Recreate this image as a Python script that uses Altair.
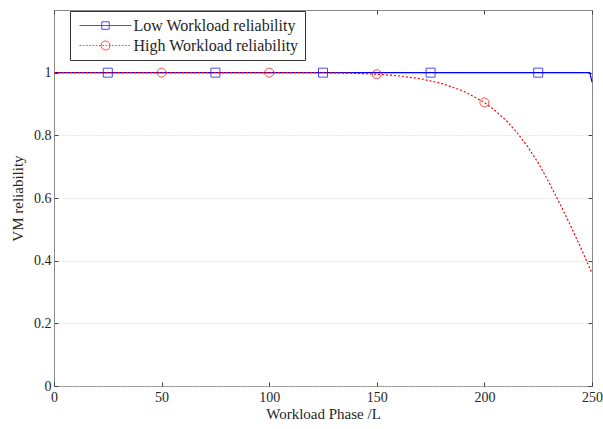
import altair as alt
import pandas as pd

# ---- data ----
LOW = "Low Workload reliability"
HIGH = "High Workload reliability"
SERIES = [LOW, HIGH]

low_x = [0, 25, 50, 75, 100, 125, 150, 175, 200, 225, 249, 250]
low_y = [1, 1, 1, 1, 1, 1, 1, 1, 1, 1, 1, 0.97]
low_marker_x = [25, 75, 125, 175, 225]

high_x = [0, 25, 50, 75, 100, 125, 140, 150, 160, 170, 180, 190, 200,
          205, 210, 215, 220, 225, 230, 235, 240, 245, 250]
high_y = [1, 1, 1, 1, 1, 1, 0.998, 0.995, 0.99, 0.981, 0.966, 0.942, 0.905,
          0.879, 0.848, 0.81, 0.765, 0.712, 0.65, 0.583, 0.512, 0.438, 0.36]
high_marker_x = [50, 100, 150, 200]

x_ticks = [0, 50, 100, 150, 200, 250]
y_ticks = [0, 0.2, 0.4, 0.6, 0.8, 1]

# ---- tables ----
lines = pd.DataFrame({
    "x": low_x + high_x,
    "y": low_y + high_y,
    "series": [LOW] * len(low_x) + [HIGH] * len(high_x),
})
lmap = dict(zip(low_x, low_y))
hmap = dict(zip(high_x, high_y))
markers = pd.DataFrame({
    "x": low_marker_x + high_marker_x,
    "y": [lmap[v] for v in low_marker_x] + [hmap[v] for v in high_marker_x],
    "series": [LOW] * len(low_marker_x) + [HIGH] * len(high_marker_x),
})

FONT = "Liberation Serif"
COLORS = ["#0000ff", "#ff0000"]
TXT = "#262626"
FRAME = "#8a8a8a"

xs = alt.Scale(domain=[0, 250], nice=False, zero=False)
ys = alt.Scale(domain=[0, 1.2], nice=False)

color_nl = alt.Color("series:N", scale=alt.Scale(domain=SERIES, range=COLORS), legend=None)

# main axes (labels, titles, grid)
x_main = alt.X("x:Q", scale=xs, axis=alt.Axis(
    orient="bottom", values=x_ticks, title="Workload Phase /L", ticks=False,
    domain=False, grid=False, labelFont=FONT, labelFontSize=14, labelColor=TXT,
    labelPadding=4, titleFont=FONT, titleFontSize=15, titleFontWeight="normal",
    titleColor=TXT, titlePadding=2, labelFlush=False))
y_main = alt.Y("y:Q", scale=ys, axis=alt.Axis(
    orient="left", values=y_ticks, title="VM reliability", ticks=False,
    domain=False, grid=True, gridColor="#cfcfcf", gridDash=[1, 2], gridWidth=1,
    labelFont=FONT, labelFontSize=14, labelColor=TXT, labelPadding=3, format="~g",
    titleFont=FONT, titleFontSize=15, titleFontWeight="normal", titleColor=TXT,
    titlePadding=8))

line_layer = alt.Chart(lines).mark_line(strokeWidth=1.2).encode(
    x=x_main, y=y_main, color=color_nl,
    strokeDash=alt.StrokeDash("series:N", scale=alt.Scale(domain=SERIES, range=[[1, 0], [2, 2]]), legend=None),
    detail="series:N",
)

point_layer = alt.Chart(markers).mark_point(filled=False, size=81, strokeWidth=1).encode(
    x=alt.X("x:Q", scale=xs, axis=None),
    y=alt.Y("y:Q", scale=ys, axis=None),
    color=color_nl,
    shape=alt.Shape("series:N", scale=alt.Scale(domain=SERIES, range=["square", "circle"]), legend=None),
)

# inward tick marks: bottom/left and top/right
def tick_axis(orient):
    return alt.Axis(orient=orient, values=(x_ticks if orient in ("bottom", "top") else y_ticks),
                    labels=False, title=None, domain=False, grid=False, ticks=True,
                    tickSize=4, offset=-4, tickColor="#444444", tickWidth=1)

ticks_a = alt.Chart(markers).transform_filter("false").mark_point(opacity=0).encode(
    x=alt.X("x:Q", scale=xs, axis=tick_axis("bottom")),
    y=alt.Y("y:Q", scale=ys, axis=tick_axis("left")),
)
ticks_b = alt.Chart(markers).transform_filter("false").mark_point(opacity=0).encode(
    x=alt.X("x:Q", scale=xs, axis=tick_axis("top")),
    y=alt.Y("y:Q", scale=ys, axis=tick_axis("right")),
)

# legend symbols: line + marker drawn as custom paths (unit = 5 px)
dots = "".join(f"M{-5.2 + 0.65 * i:.2f},0H{-4.85 + 0.65 * i:.2f}" for i in range(16))
low_path = "M-5.2,0H5.2M-0.75,-0.75H0.75V0.75H-0.75Z"
high_path = dots + "M0.9,0A0.9,0.9,0,1,1,-0.9,0A0.9,0.9,0,1,1,0.9,0Z"

leg = alt.Legend(title=None, orient="none", legendX=16, legendY=1,
                 labelFont=FONT, labelFontSize=16, labelColor=TXT,
                 labelOffset=20, symbolOffset=21, rowPadding=4,
                 padding=6.5, strokeColor="#333333", fillColor="white",
                 symbolStrokeWidth=1, labelLimit=400)

legend_layer = alt.Chart(markers).transform_filter("false").mark_point(
    filled=False, size=100, strokeWidth=1).encode(
    x=alt.X("x:Q", scale=xs, axis=None),
    y=alt.Y("y:Q", scale=ys, axis=None),
    color=alt.Color("series:N", scale=alt.Scale(domain=SERIES, range=COLORS), legend=leg),
    shape=alt.Shape("series:N", scale=alt.Scale(domain=SERIES, range=[low_path, high_path]), legend=leg),
)

chart = alt.layer(line_layer, point_layer, ticks_a, ticks_b, legend_layer).resolve_scale(
    color="independent", shape="independent", strokeDash="independent"
).resolve_axis(
    x="independent", y="independent"
).properties(
    width=538, height=376,
    autosize=alt.AutoSizeParams(type="none"),
    padding={"left": 54, "top": 10, "right": 11, "bottom": 43},
    background="white",
).configure_view(stroke=FRAME, strokeWidth=1)

chart.save("out.html", embed_options={"renderer": "svg", "actions": False})
